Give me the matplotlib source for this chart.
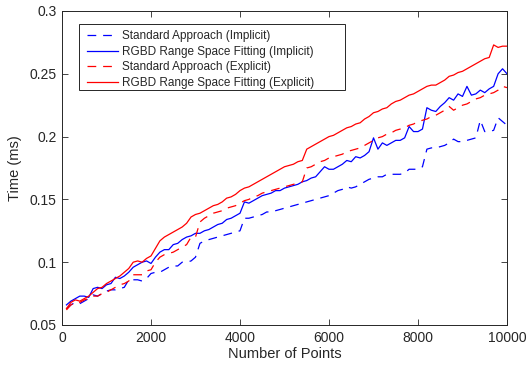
import matplotlib
matplotlib.use("Agg")
import matplotlib.pyplot as plt
from matplotlib.patches import Rectangle
import numpy as np

plt.rcParams['font.family'] = ['Liberation Sans', 'DejaVu Sans']

points = list(range(100, 10001, 100))

std_imp = [0.063, 0.066, 0.068, 0.067, 0.069, 0.071, 0.074, 0.073, 0.075, 0.077,
           0.078, 0.078, 0.079, 0.080, 0.086, 0.086, 0.086, 0.085, 0.087, 0.091,
           0.092, 0.092, 0.094, 0.096, 0.097, 0.097, 0.100, 0.100, 0.101, 0.104,
           0.115, 0.117, 0.118, 0.119, 0.120, 0.121, 0.122, 0.123, 0.124, 0.125,
           0.135, 0.135, 0.136, 0.137, 0.138, 0.140, 0.140, 0.141, 0.142, 0.143,
           0.144, 0.145, 0.146, 0.147, 0.148, 0.149, 0.150, 0.151, 0.152, 0.153,
           0.155, 0.157, 0.158, 0.160, 0.159, 0.160, 0.162, 0.164, 0.166, 0.167,
           0.168, 0.168, 0.170, 0.170, 0.170, 0.170, 0.171, 0.174, 0.174, 0.174,
           0.176, 0.190, 0.191, 0.191, 0.192, 0.193, 0.195, 0.198, 0.196, 0.196,
           0.197, 0.198, 0.199, 0.213, 0.204, 0.204, 0.205, 0.215, 0.212, 0.209]

rgbd_imp = [0.066, 0.069, 0.071, 0.073, 0.073, 0.072, 0.079, 0.080, 0.079, 0.082,
            0.083, 0.088, 0.087, 0.089, 0.092, 0.096, 0.098, 0.100, 0.101, 0.099,
            0.104, 0.108, 0.110, 0.110, 0.114, 0.115, 0.118, 0.120, 0.121, 0.123,
            0.123, 0.125, 0.126, 0.128, 0.130, 0.131, 0.134, 0.135, 0.137, 0.139,
            0.148, 0.147, 0.149, 0.151, 0.153, 0.154, 0.155, 0.157, 0.157, 0.159,
            0.160, 0.161, 0.162, 0.164, 0.165, 0.167, 0.168, 0.172, 0.176, 0.174,
            0.174, 0.176, 0.178, 0.181, 0.180, 0.184, 0.183, 0.185, 0.188, 0.199,
            0.190, 0.195, 0.193, 0.195, 0.197, 0.197, 0.199, 0.208, 0.204, 0.204,
            0.206, 0.223, 0.221, 0.220, 0.224, 0.227, 0.231, 0.229, 0.234, 0.232,
            0.240, 0.233, 0.234, 0.237, 0.235, 0.238, 0.240, 0.250, 0.254, 0.250]

std_exp = [0.062, 0.066, 0.068, 0.068, 0.070, 0.071, 0.073, 0.073, 0.075, 0.076,
           0.078, 0.080, 0.082, 0.083, 0.085, 0.090, 0.090, 0.090, 0.093, 0.094,
           0.100, 0.104, 0.106, 0.107, 0.108, 0.110, 0.112, 0.114, 0.120, 0.120,
           0.132, 0.135, 0.137, 0.139, 0.140, 0.141, 0.143, 0.144, 0.145, 0.147,
           0.149, 0.150, 0.152, 0.153, 0.155, 0.156, 0.157, 0.158, 0.159, 0.160,
           0.161, 0.162, 0.163, 0.164, 0.175, 0.176, 0.178, 0.180, 0.181, 0.183,
           0.184, 0.185, 0.186, 0.188, 0.189, 0.190, 0.191, 0.193, 0.195, 0.197,
           0.199, 0.200, 0.202, 0.203, 0.205, 0.206, 0.207, 0.209, 0.210, 0.212,
           0.213, 0.214, 0.216, 0.217, 0.219, 0.221, 0.224, 0.221, 0.223, 0.225,
           0.226, 0.228, 0.230, 0.231, 0.233, 0.234, 0.235, 0.237, 0.240, 0.239]

rgbd_exp = [0.063, 0.068, 0.070, 0.069, 0.071, 0.073, 0.076, 0.079, 0.080, 0.083,
            0.085, 0.087, 0.089, 0.092, 0.095, 0.100, 0.101, 0.100, 0.103, 0.105,
            0.111, 0.117, 0.120, 0.122, 0.124, 0.126, 0.128, 0.131, 0.136, 0.138,
            0.139, 0.141, 0.143, 0.145, 0.146, 0.148, 0.151, 0.152, 0.154, 0.157,
            0.159, 0.160, 0.162, 0.164, 0.166, 0.168, 0.170, 0.172, 0.174, 0.176,
            0.177, 0.178, 0.180, 0.181, 0.190, 0.192, 0.194, 0.196, 0.198, 0.200,
            0.201, 0.203, 0.205, 0.207, 0.208, 0.210, 0.211, 0.214, 0.216, 0.219,
            0.220, 0.222, 0.223, 0.226, 0.228, 0.229, 0.231, 0.233, 0.234, 0.236,
            0.238, 0.240, 0.241, 0.241, 0.243, 0.245, 0.248, 0.249, 0.251, 0.252,
            0.254, 0.256, 0.258, 0.260, 0.262, 0.263, 0.273, 0.271, 0.272, 0.272]

labels = ["Standard Approach (Implicit)", "RGBD Range Space Fitting (Implicit)",
          "Standard Approach (Explicit)", "RGBD Range Space Fitting (Explicit)"]

W, H = 532, 369
AX_L, AX_R, AX_T, AX_B = 62, 507, 11, 325

fig = plt.figure(figsize=(W/100, H/100), dpi=100)
ax = fig.add_axes([AX_L/W, 1-AX_B/H, (AX_R-AX_L)/W, (AX_B-AX_T)/H])

def ax_frac(px, py):
    return (px-AX_L)/(AX_R-AX_L), (AX_B-py)/(AX_B-AX_T)

dash = (0, (7, 5.5))
ax.plot(points, std_imp, color='#0000ff', lw=0.9, linestyle=dash, label=labels[0])
ax.plot(points, rgbd_imp, color='#0000ff', lw=0.9, label=labels[1])
ax.plot(points, std_exp, color='#ff0000', lw=0.9, linestyle=dash, label=labels[2])
ax.plot(points, rgbd_exp, color='#ff0000', lw=0.9, label=labels[3])

ax.set_xlim(0, 10000)
ax.set_ylim(0.05, 0.3)
ax.set_xticks([0, 2000, 4000, 6000, 8000, 10000])
ax.set_yticks([0.05, 0.1, 0.15, 0.2, 0.25, 0.3])
ax.set_yticklabels(['0.05', '0.1', '0.15', '0.2', '0.25', '0.3'])
ax.tick_params(direction='in', top=True, right=True, labelsize=10, length=4,
               width=0.6, color='#262626', labelcolor='#262626', pad=4)
for s in ax.spines.values():
    s.set_linewidth(0.7)
    s.set_color('#262626')

ax.set_xlabel("Number of Points", fontsize=10.5, color='#262626', labelpad=2)
ax.set_ylabel("Time (ms)", fontsize=10.5, color='#262626', labelpad=5)

# legend box (MATLAB-style, with wide right padding)
x0, y1 = ax_frac(79, 24)
x1, y0 = ax_frac(345, 90)
box = Rectangle((x0, y0), x1-x0, y1-y0, transform=ax.transAxes,
                facecolor='white', edgecolor='#262626', linewidth=0.7, zorder=5)
ax.add_patch(box)

ax_x, ax_y = ax_frac(82, 25)
leg = ax.legend(loc='upper left', bbox_to_anchor=(ax_x, ax_y), borderaxespad=0,
                fontsize=8.5, frameon=False, handlelength=2.6,
                handletextpad=0.3, labelspacing=0.3, borderpad=0.45)
leg.set_zorder(6)
for t in leg.get_texts():
    t.set_color('#262626')

fig.savefig("out.png", dpi=100)
